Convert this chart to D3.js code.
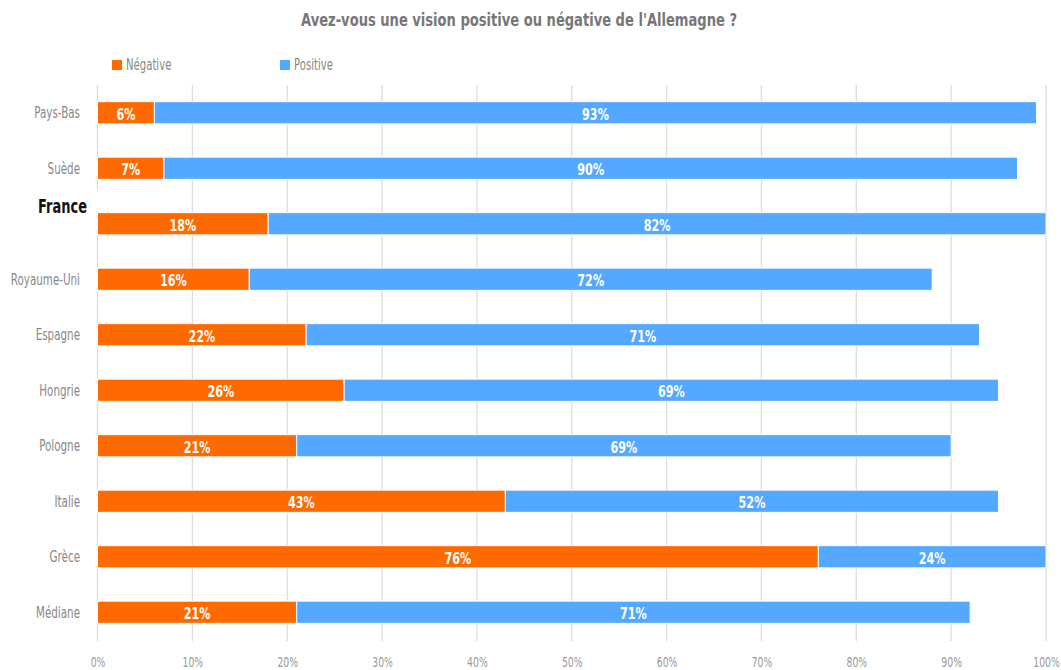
<!DOCTYPE html>
<html><head><meta charset="utf-8">
<script src="https://cdn.jsdelivr.net/npm/d3@7/dist/d3.min.js"></script>
<style>
body{margin:0;background:#fff;}
text{font-family:"DejaVu Sans",sans-serif;}
</style></head><body>
<svg id="c" width="1061" height="670"></svg>
<script>
const title = "Avez-vous une vision positive ou négative de l'Allemagne ?";
const categories = ["Pays-Bas","Suède","France","Royaume-Uni","Espagne","Hongrie","Pologne","Italie","Grèce","Médiane"];
const negative = [6,7,18,16,22,26,21,43,76,21];
const positive = [93,90,82,72,71,69,69,52,24,71];
const seriesNames = ["Négative","Positive"];
const colors = ["#FF6A00","#55A8FF"];
const ticks = [0,10,20,30,40,50,60,70,80,90,100];
const highlight = "France";

const svg = d3.select("#c");
const x = d3.scaleLinear().domain([0,100]).range([97.5,1046]);
const y = d3.scaleBand().domain(categories).range([85,640]).paddingInner(0.6).paddingOuter(0.3);

// condensed text helper
function ctext(parent, tx, ty, s, str, anchor, size, weight, fill){
  return parent.append("text")
    .attr("transform",`translate(${tx},${ty}) scale(${s},1)`)
    .attr("dy","0.36em").attr("text-anchor",anchor).attr("fill",fill)
    .style("font-size",size+"px").style("font-weight",weight).text(str);
}

// gridlines
svg.append("g").selectAll("line").data(ticks).join("line")
  .attr("x1",d=>x(d)).attr("x2",d=>x(d)).attr("y1",85).attr("y2",641)
  .attr("stroke","#dddddd").attr("stroke-width",1.3);

// axis labels
const xAxis = d3.axisBottom(x).tickValues(ticks).tickFormat(d=>d+"%").tickSize(0).tickPadding(0);
const ga = svg.append("g").attr("transform","translate(0,662)").call(xAxis);
ga.select(".domain").remove();
ga.selectAll("text").attr("fill","#999").style("font-size","14.5px").attr("y",0).attr("dy","0.36em")
  .attr("transform","scale(0.64,1)");

// white box behind the highlighted label (hides gridline), drawn before bars
const rows = categories.map((c,i)=>({c, n:negative[i], p:positive[i]}));
rows.forEach(r=>{
  if(r.c===highlight){
    const cy = y(r.c)+y.bandwidth()/2;
    svg.append("rect").attr("x",30).attr("y",cy-34).attr("width",70).attr("height",22).attr("fill","#fff");
  }
});

// bars
const g = svg.append("g");
rows.forEach(r=>{
  const by = y(r.c), bh = y.bandwidth();
  g.append("rect").attr("x",x(0)).attr("y",by).attr("width",x(r.n)-x(0)).attr("height",bh)
    .attr("fill",colors[0]).attr("stroke","#fff").attr("stroke-width",1);
  g.append("rect").attr("x",x(r.n)).attr("y",by).attr("width",x(r.n+r.p)-x(r.n)).attr("height",bh)
    .attr("fill",colors[1]).attr("stroke","#fff").attr("stroke-width",1);
  ctext(g,(x(0)+x(r.n))/2, by+bh/2+1, 0.7, r.n+"%","middle",16,"bold","#fff");
  ctext(g,(x(r.n)+x(r.n+r.p))/2, by+bh/2+1, 0.7, r.p+"%","middle",16,"bold","#fff");
});

// category labels
rows.forEach(r=>{
  const cy = y(r.c)+y.bandwidth()/2;
  if(r.c===highlight){
    ctext(svg,87,cy-18,0.65,r.c,"end",20,"bold","#111");
  } else {
    ctext(svg,80,cy,0.69,r.c,"end",15,"normal","#888");
  }
});

// title
ctext(svg,519,20,0.77,title,"middle",17,"bold","#777");

// legend
const lx = [112,280];
seriesNames.forEach((s,i)=>{
  svg.append("rect").attr("x",lx[i]).attr("y",60).attr("width",10).attr("height",10).attr("fill",colors[i]);
  ctext(svg,lx[i]+14,65,0.675,s,"start",15,"normal","#888");
});
</script></body></html>
